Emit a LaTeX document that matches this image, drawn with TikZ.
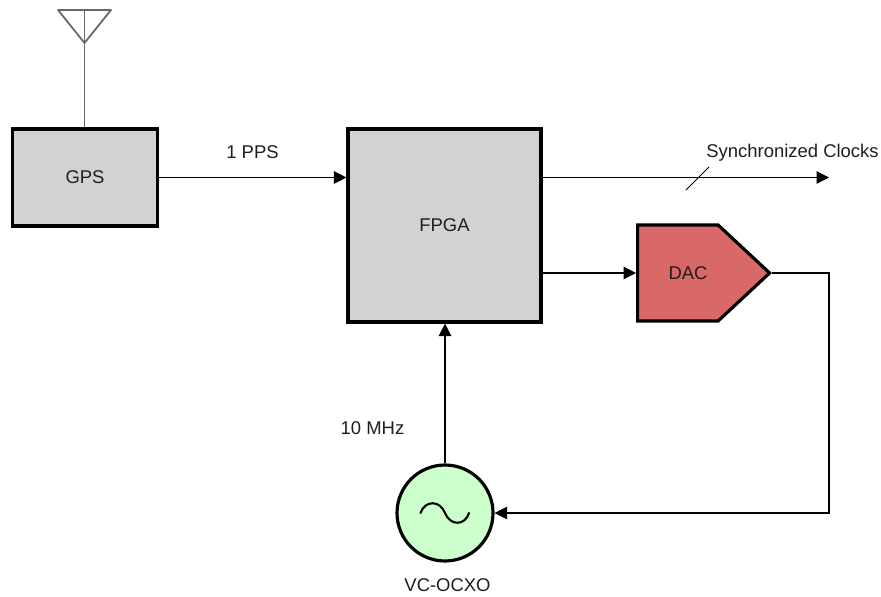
\documentclass[tikz,border=0pt]{standalone}
\usepackage{fontspec}
\setmainfont{Liberation Sans}
\usetikzlibrary{%
  arrows.meta,
  shapes.symbols,
}
\definecolor{blockgray}{HTML}{D2D2D2}
\definecolor{dacred}{HTML}{D96868}
\definecolor{oscgreen}{HTML}{CCFFCC}
\definecolor{antgray}{HTML}{666666}
\definecolor{textgray}{HTML}{1E1E1E}
\tikzset{
  block/.style={draw=black, line width=1.8pt, fill=blockgray, inner sep=0pt},
  wire/.style={draw=black, line width=0.75pt},
  sig/.style={wire, -{Triangle[length=2.5mm,width=2.5mm]}},
  lbl/.style={text=textgray, inner sep=0pt, font=\fontsize{10.5}{12}\selectfont},
}
\begin{document}
\begin{tikzpicture}
        \useasboundingbox (0,0) rectangle (17.62,11.92);

        \node[block, lbl, minimum width=29mm, minimum height=19.4mm]
          (GPS) at (1.70,8.37) {GPS};
        \node[block, lbl, minimum width=38.6mm, minimum height=38.6mm]
          (FPGA) at (8.89,7.41) {FPGA};
        \node[block, fill=dacred, signal, signal to=east,
          signal pointer angle=86, minimum width=26.4mm, minimum height=19.2mm,
          anchor=west]
          (DAC) at (12.72,6.46) {};
        \node[block, fill=oscgreen, circle, minimum size=19.2mm]
          (VCO) at (8.9,1.66) {};

        \coordinate (clkend) at (16.58,8.37);
        \coordinate (corner) at (16.58,1.66);
        \coordinate (anttip) at (1.69,11.06);
        \coordinate (anttop) at (1.69,11.72);

        % antenna
        \draw[line width=1pt, antgray, line join=round]
          (1.16,11.72) -- (2.22,11.72) -- (anttip) -- cycle;
        \draw[line width=1pt, antgray]
          (anttop) -- (GPS.north -| anttop);

        \draw[sig] (GPS.east) -- (GPS.east -| FPGA.west);
        \draw[sig] (GPS.east -| FPGA.east) -- (clkend);
        \draw[sig] (DAC.west -| FPGA.east) -- (DAC.west);
        \draw[sig] (DAC.east) -| (corner) -- (VCO.east);
        \draw[sig] (VCO.north) -- (VCO.north |- FPGA.south);

        % bus slash
        \draw[line width=0.5pt] (13.72,8.12) -- (14.18,8.58);

        % sine in the oscillator
        \draw[line width=1.2pt, line cap=round]
          (8.41,1.66) .. controls (8.5,1.92) and (8.8,1.92) .. (8.9,1.66)
          .. controls (9.0,1.40) and (9.3,1.40) .. (9.38,1.66);

        \node[lbl] (dactext) at (13.76,6.46) {DAC};
        \node[lbl] (pps) at (5.05,8.88) {1 PPS};
        \node[lbl] (clks) at (15.85,8.86) {Synchronized Clocks};
        \node[lbl] (mhz) at (7.45,3.36) {10 MHz};
        \node[lbl] (ocxo) at (8.95,0.22) {VC-OCXO};
      \end{tikzpicture}
\end{document}
